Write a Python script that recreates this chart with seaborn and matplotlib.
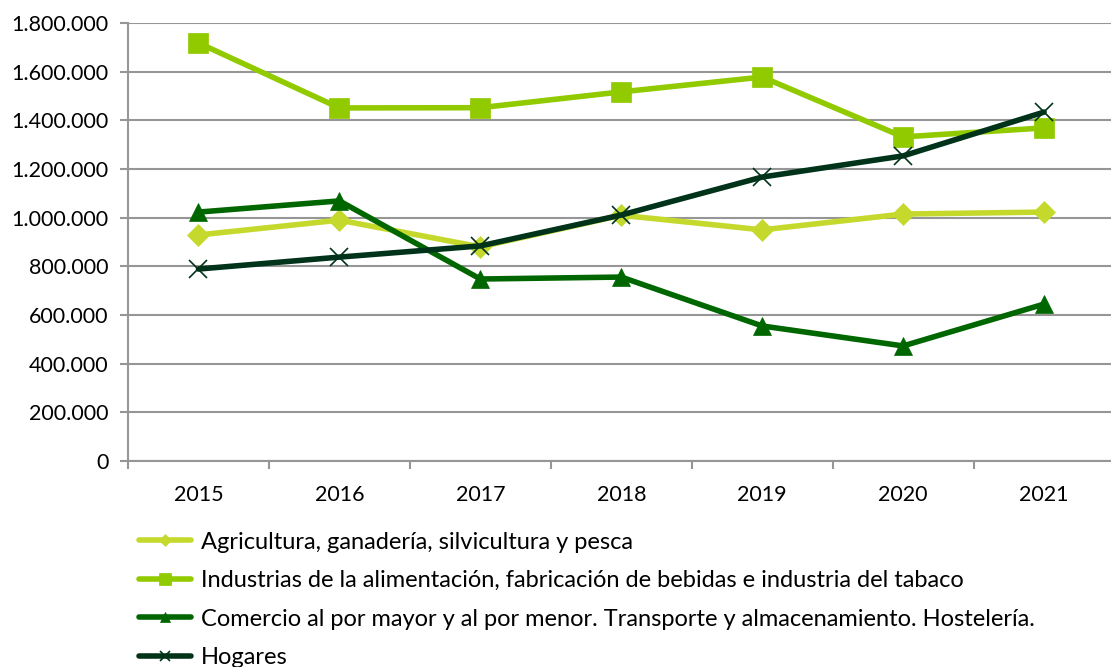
import pandas as pd
import numpy as np
import matplotlib
matplotlib.use("Agg")
import matplotlib.pyplot as plt
import seaborn as sns
from matplotlib.ticker import FuncFormatter, FixedLocator

years = ["2015", "2016", "2017", "2018", "2019", "2020", "2021"]
agricultura = [929000, 990000, 880000, 1010000, 950000, 1015000, 1023000]
industrias = [1718000, 1451000, 1452000, 1517000, 1578000, 1332000, 1369000]
comercio = [1023000, 1069000, 748000, 756000, 555000, 473000, 645000]
hogares = [789000, 838000, 884000, 1011000, 1167000, 1254000, 1434000]

labels = [
    "Agricultura, ganadería, silvicultura y pesca",
    "Industrias de la alimentación, fabricación de bebidas e industria del tabaco",
    "Comercio al por mayor y al por menor. Transporte y almacenamiento. Hostelería.",
    "Hogares",
]
colors = ["#C5D92D", "#92CA00", "#006600", "#00331A"]
markers = ["D", "s", "^", "x"]
msizes = [11, 14, 13, 13]

sns.set_theme(style="white")
plt.rcParams["font.family"] = ["Lato", "DejaVu Sans"]
plt.rcParams["text.color"] = "black"

fig = plt.figure(figsize=(11.11, 6.67), dpi=100)
ax = fig.add_axes([0.1152, 0.3088, 0.888, 0.6567])

series = [agricultura, industrias, comercio, hogares]
for vals, lab, col, mk, ms in zip(series, labels, colors, markers, msizes):
    d = pd.DataFrame({"year": years, "value": vals})
    sns.lineplot(data=d, x="year", y="value", ax=ax, color=col, linewidth=4,
                 marker=mk, markersize=ms, markeredgecolor=col,
                 markeredgewidth=1.2 if mk == "x" else 0.5, label=lab, sort=False)

ax.set_xlim(-0.5, 6.5)
ax.set_ylim(0, 1800000)
ax.set_yticks(np.arange(0, 1800001, 200000))
ax.yaxis.set_major_formatter(FuncFormatter(lambda v, p: f"{int(v):,}".replace(",", ".")))
ax.grid(axis="y", color="#969696", linewidth=1.5)
ax.set_axisbelow(True)
ax.set_xlabel("")
ax.set_ylabel("")

ax.xaxis.set_minor_locator(FixedLocator(np.arange(-0.5, 7, 1)))
ax.tick_params(axis="x", which="major", length=0, pad=17, labelsize=15.5, labelcolor="black")
ax.tick_params(axis="x", which="minor", length=6, width=1.5, color="#969696", direction="out")
ax.tick_params(axis="y", length=6, width=1.5, color="#969696", direction="out", pad=8,
               labelsize=15.5, labelcolor="black")
ax.tick_params(bottom=True, left=True)
ax.xaxis.set_tick_params(which="minor", bottom=True)

for s in ["top", "right"]:
    ax.spines[s].set_visible(False)
for s in ["left", "bottom"]:
    ax.spines[s].set_color("#969696")
    ax.spines[s].set_linewidth(1.5)

handles, labs = ax.get_legend_handles_labels()
ax.get_legend().remove()
leg = fig.legend(handles, labs, loc="upper left", bbox_to_anchor=(0.117, 0.217), frameon=False,
                 fontsize=17, handlelength=2.2, handletextpad=0.4, labelspacing=0.74,
                 borderaxespad=0, markerscale=0.6)
for t in leg.get_texts():
    t.set_color("black")

fig.savefig("out.png", dpi=100)
